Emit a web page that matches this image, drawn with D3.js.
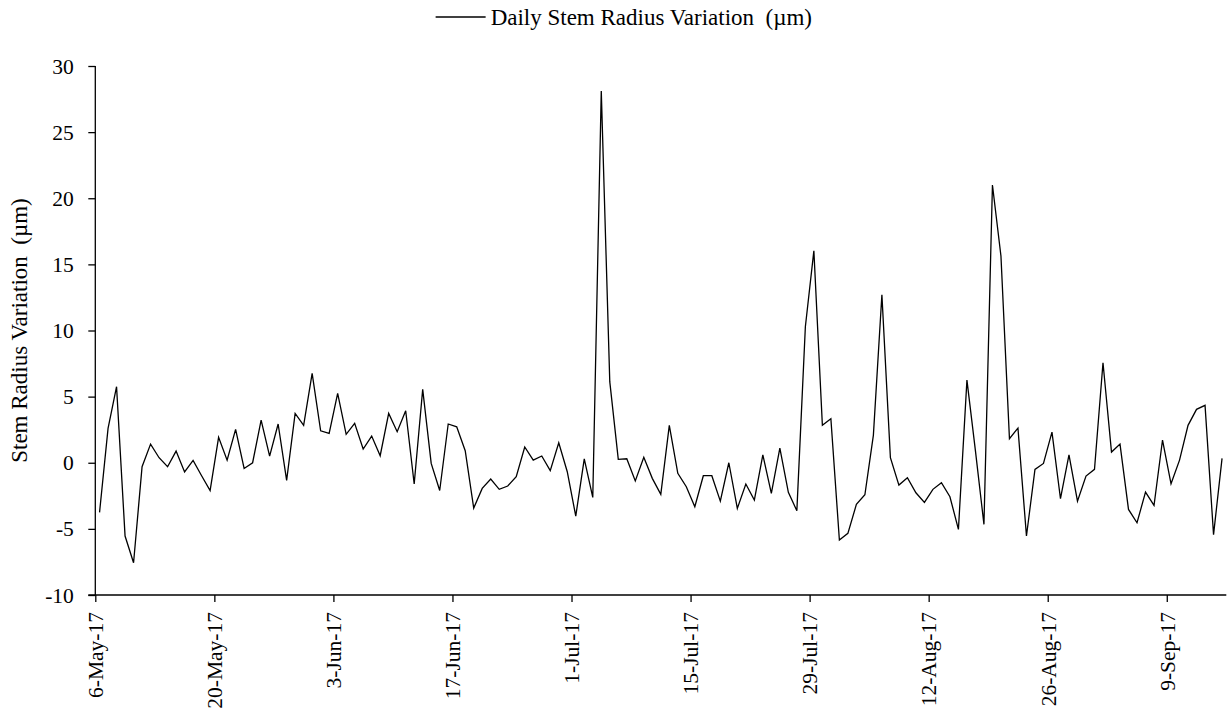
<!DOCTYPE html>
<html>
<head>
<meta charset="utf-8">
<script src="https://cdn.jsdelivr.net/npm/d3@7"></script>
<style>
  html, body { margin: 0; padding: 0; background: #fff; }
  svg { display: block; }
  text { font-family: "Liberation Serif", "Times New Roman", serif; fill: #000; }
</style>
</head>
<body>
<svg id="chart" width="1230" height="721"></svg>
<script>
// First day of the record; one value per day follows.
const startDay = "2017-05-06";

// Daily stem radius variation (µm), 6 May – 15 Sep 2017
const radiusVariation = [
  -3.75, 2.6, 5.75, -5.54, -7.56, -0.3, 1.41, 0.38, -0.3, 0.88,
  -0.7, 0.18, -0.98, -2.1, 1.92, 0.2, 2.52, -0.43, 0.0, 3.23,
  0.5, 2.93, -1.33, 3.73, 2.83, 6.76, 2.42, 2.22, 5.25, 2.15,
  2.98, 1.04, 2.02, 0.53, 3.73, 2.35, 3.93, -1.61, 5.55, -0.05,
  -2.1, 2.93, 2.72, 0.91, -3.43, -1.94, -1.23, -2.01, -1.76, -1.06,
  1.19, 0.2, 0.51, -0.6, 1.51, -0.68, -4.03, 0.3, -2.62, 28.1,
  6.13, 0.26, 0.3, -1.38, 0.41, -1.18, -2.39, 2.83, -0.8, -1.81,
  -3.33, -0.98, -0.98, -2.9, 0.0, -3.45, -1.61, -2.82, 0.6, -2.31,
  1.11, -2.24, -3.63, 10.28, 16.03, 2.83, 3.33, -5.84, -5.34, -3.15,
  -2.42, 2.09, 12.7, 0.38, -1.69, -1.13, -2.27, -3.0, -2.01, -1.51,
  -2.57, -5.04, 6.25, 0.9, -4.66, 21.0, 15.63, 1.82, 2.62, -5.54,
  -0.5, -0.05, 2.32, -2.72, 0.6, -2.9, -1.01, -0.5, 7.56, 0.81,
  1.41, -3.53, -4.54, -2.22, -3.23, 1.72, -1.59, 0.2, 2.83, 4.04,
  4.34, -5.44, 0.33
];

// Date axis labels (every 14 days)
const xTickLabels = ["6-May-17", "20-May-17", "3-Jun-17", "17-Jun-17", "1-Jul-17",
  "15-Jul-17", "29-Jul-17", "12-Aug-17", "26-Aug-17", "9-Sep-17"];

// Value axis ticks
const yTickValues = [-10, -5, 0, 5, 10, 15, 20, 25, 30];

const seriesName = "Daily Stem Radius Variation\u00a0\u00a0(µm)";
const yTitle = "Stem Radius Variation\u00a0\u00a0(µm)";

const parseDay = d3.utcParse("%Y-%m-%d");
const parseTick = d3.utcParse("%d-%b-%y");
const start = parseDay(startDay);
const records = radiusVariation.map((v, i) => ({
  date: d3.utcDay.offset(start, i),
  value: v
}));

const svg = d3.select("#chart");
const plotLeft = 95.3, plotRight = 1226.3, plotTop = 66, plotBottom = 595;

// Each day occupies one slot; values sit at the middle of their day.
const x = d3.scaleUtc()
  .domain([start, d3.utcDay.offset(start, records.length)])
  .range([plotLeft, plotRight]);
const y = d3.scaleLinear().domain([-10, 30]).range([plotBottom, plotTop]);

const fontSize = 21.5;
const titleSize = 23;
const serif = '"Liberation Serif", "Times New Roman", serif';

// Y axis
const yAxis = svg.append("g")
  .attr("transform", `translate(${plotLeft},0)`)
  .call(d3.axisLeft(y).tickValues(yTickValues).tickSize(7).tickPadding(14.5).tickFormat(d => String(d)));
yAxis.selectAll("path, line").attr("stroke", "#000").attr("stroke-width", 1.3);
yAxis.select(".domain").attr("d", `M0,${plotBottom}V${plotTop}`);
yAxis.selectAll("text")
  .style("font-family", serif)
  .style("font-size", fontSize + "px")
  .attr("dy", "0.33em");

// X axis
const xAxis = svg.append("g")
  .attr("transform", `translate(0,${plotBottom})`)
  .call(d3.axisBottom(x)
    .tickValues(xTickLabels.map(parseTick))
    .tickSize(7)
    .tickFormat((d, i) => xTickLabels[i]));
xAxis.selectAll("path, line").attr("stroke", "#000").attr("stroke-width", 1.3);
xAxis.select(".domain").attr("d", `M${plotLeft - 7},0H${plotRight}`);
xAxis.selectAll("text")
  .style("font-family", serif)
  .style("font-size", fontSize + "px")
  .attr("text-anchor", "end")
  .attr("transform", "rotate(-90)")
  .attr("x", -17)
  .attr("y", 0)
  .attr("dy", "0.34em");

// Series line
const line = d3.line()
  .x(d => x(d3.utcHour.offset(d.date, 12)))
  .y(d => y(d.value));
svg.append("path")
  .datum(records)
  .attr("fill", "none")
  .attr("stroke", "#000")
  .attr("stroke-width", 1.3)
  .attr("stroke-linejoin", "miter")
  .attr("d", line);

// Y axis title
svg.append("text")
  .attr("transform", `translate(27,${(plotTop + plotBottom) / 2}) rotate(-90)`)
  .attr("text-anchor", "middle")
  .style("font-size", titleSize + "px")
  .text(yTitle);

// Legend
const legend = svg.append("g");
const legendText = legend.append("text")
  .attr("x", 812)
  .attr("y", 25)
  .attr("text-anchor", "end")
  .style("font-size", titleSize + "px")
  .text(seriesName);
const tw = legendText.node().getComputedTextLength();
legend.append("line")
  .attr("x1", 812 - tw - 55).attr("x2", 812 - tw - 5)
  .attr("y1", 17).attr("y2", 17)
  .attr("stroke", "#000").attr("stroke-width", 1.3);
</script>
</body>
</html>
